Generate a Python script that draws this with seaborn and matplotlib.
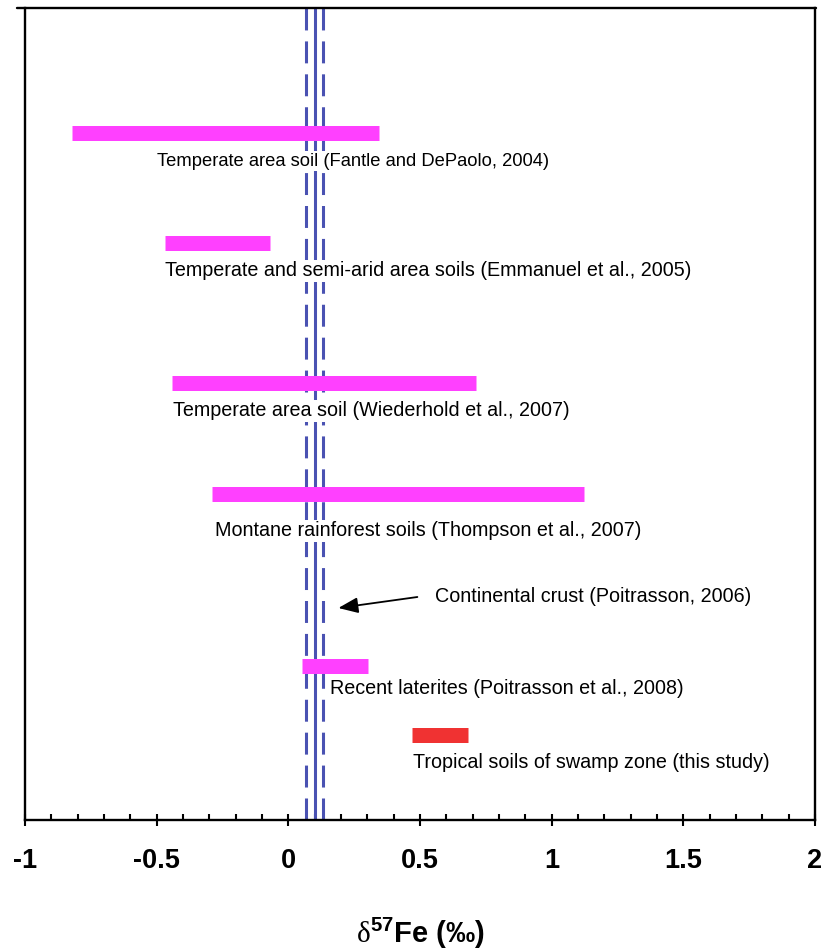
import matplotlib
matplotlib.use("Agg")
import matplotlib.pyplot as plt
from matplotlib.lines import Line2D
import numpy as np
import pandas as pd
import seaborn as sns

# Published ranges of soil d57Fe values (per mil)
studies = [
    "Temperate area soil (Fantle and DePaolo, 2004)",
    "Temperate and semi-arid area soils (Emmanuel et al., 2005)",
    "Temperate area soil (Wiederhold et al., 2007)",
    "Montane rainforest soils (Thompson et al., 2007)",
    "Recent laterites (Poitrasson et al., 2008)",
    "Tropical soils of swamp zone (this study)",
]
range_low = [-0.82, -0.47, -0.44, -0.29, 0.05, 0.47]
range_high = [0.345, -0.07, 0.713, 1.123, 0.304, 0.682]
group = ["literature", "literature", "literature", "literature", "literature", "this study"]

# Continental crust reference value and its uncertainty
crust_label = "Continental crust (Poitrasson, 2006)"
crust_mean = 0.1
crust_err = 0.032

x_ticks = [-1, -0.5, 0, 0.5, 1, 1.5, 2]
x_tick_labels = ["-1", "-0.5", "0", "0.5", "1", "1.5", "2"]

# Layout: vertical rows (0 = top, 812 = bottom) for bars and their captions
bar_rows = [125, 235, 374.5, 486, 657.5, 727]
label_x = [-0.499, -0.468, -0.438, -0.278, 0.158, 0.474]
label_rows = [153, 263, 403, 523, 681, 755]
label_sizes = [13.2, 14.2, 14.2, 14.2, 14.2, 14.2]
crust_label_xy = (0.557, 588)
arrow_tail = (0.49, 589)
arrow_head = (0.19, 600)

sns.set_theme(style="white")
plt.rcParams["font.family"] = ["Liberation Sans", "DejaVu Sans"]
plt.rcParams["text.color"] = "black"
plt.rcParams["axes.labelcolor"] = "black"
plt.rcParams["xtick.color"] = "black"
plt.rcParams["xtick.labelcolor"] = "black"
plt.rcParams["mathtext.fontset"] = "custom"
plt.rcParams["mathtext.rm"] = "Liberation Serif"
plt.rcParams["mathtext.bf"] = "Liberation Sans:bold"

W, H = 824, 951
fig = plt.figure(figsize=(W / 100, H / 100), dpi=100)
ax = fig.add_axes([25 / W, 1 - 820 / H, (815 - 25) / W, (820 - 8) / H])

# Range bars drawn as thick butt-capped segments
rows = []
for i, (lo, hi, yy, g) in enumerate(zip(range_low, range_high, bar_rows, group)):
    rows.append({"bar": i, "d57Fe": lo, "row": yy, "group": g})
    rows.append({"bar": i, "d57Fe": hi, "row": yy, "group": g})
df = pd.DataFrame(rows)

# crust reference lines (drawn first so bars and captions sit on top)
line_color = "#4a52b2"
lw = 2.2
ax.plot([crust_mean, crust_mean], [0, 812], color=line_color, lw=lw, zorder=1)
for xv in (crust_mean - crust_err, crust_mean + crust_err):
    ax.plot([xv, xv], [0, 812], color=line_color, lw=lw,
            ls=(0, (15.8 / lw, 7.9 / lw)), zorder=1, dash_capstyle="butt")

sns.lineplot(data=df, x="d57Fe", y="row", units="bar", estimator=None,
             hue="group", palette={"literature": "#ff40ff", "this study": "#f03232"},
             sort=False, lw=10.8, solid_capstyle="butt", legend=False, ax=ax,
             zorder=3)

for txt, lx, ly, fs in zip(studies, label_x, label_rows, label_sizes):
    ax.text(lx, ly, txt, fontsize=fs, ha="left", va="center", color="black",
            zorder=4, bbox=dict(facecolor="white", edgecolor="none", pad=1.0))

ax.text(crust_label_xy[0], crust_label_xy[1], crust_label, fontsize=14.2,
        ha="left", va="center", color="black")
ax.annotate("", xy=arrow_head, xytext=arrow_tail,
            arrowprops=dict(arrowstyle="-|>,head_length=1.0,head_width=0.4",
                            color="black", lw=1.3, shrinkA=0, shrinkB=0))

ax.set_xlim(-1, 2)
ax.set_ylim(812, 0)
ax.set_yticks([])
ax.set_ylabel("")
ax.set_xticks(x_ticks)
ax.set_xticklabels(x_tick_labels, fontsize=19.5, fontweight="bold", color="black")
ax.set_xticks(np.arange(-1, 2.001, 0.1), minor=True)
ax.tick_params(axis="x", which="major", direction="inout", length=8, width=1.5,
               pad=16, bottom=True, color="black")
ax.tick_params(axis="x", which="minor", direction="in", length=4, width=1.5,
               bottom=True, color="black")

ax.set_xlabel(r"$\mathrm{\delta}^{\mathbf{57}}$Fe (‰)", fontsize=21,
              fontweight="bold", labelpad=30, color="black")

for side in ("left", "right", "bottom"):
    ax.spines[side].set_visible(True)
    ax.spines[side].set_color("black")
    ax.spines[side].set_linewidth(1.7)
ax.spines["top"].set_visible(False)

# frame top edge, running slightly past the left spine
fig.add_artist(Line2D([17 / W, 816 / W], [1 - 8 / H, 1 - 8 / H],
                      color="black", lw=1.7, transform=fig.transFigure))

fig.savefig("out.png", dpi=100)
